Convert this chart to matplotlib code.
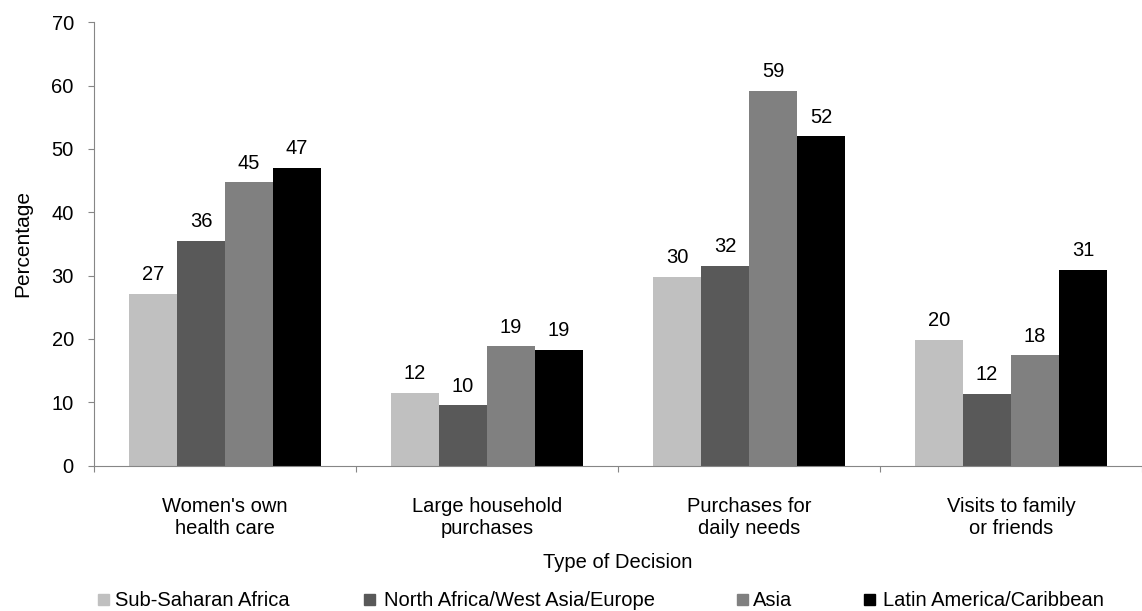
import matplotlib
matplotlib.use("Agg")
import numpy as np
import matplotlib.pyplot as plt
from matplotlib.patches import Rectangle

plt.rcParams['font.family'] = ['Liberation Sans', 'DejaVu Sans']

# data
categories = ["Women's own\nhealth care", "Large household\npurchases",
              "Purchases for\ndaily needs", "Visits to family\nor friends"]
regions = ["Sub-Saharan Africa", "North Africa/West Asia/Europe", "Asia",
           "Latin America/Caribbean"]
colors = ["#c0c0c0", "#595959", "#808080", "#000000"]

ssa = [27.1, 11.5, 29.8, 19.9]
nawa = [35.5, 9.5, 31.5, 11.3]
asia = [44.7, 18.8, 59.2, 17.4]
lac = [47.0, 18.3, 52.0, 30.9]

# printed labels (rounded in the source)
ssa_lab = [27, 12, 30, 20]
nawa_lab = [36, 10, 32, 12]
asia_lab = [45, 19, 59, 18]
lac_lab = [47, 19, 52, 31]

series = [ssa, nawa, asia, lac]
series_lab = [ssa_lab, nawa_lab, asia_lab, lac_lab]

FS = 14.5

fig = plt.figure(figsize=(11.42, 6.11), dpi=100)
ax = fig.add_axes([94/1142, 145.5/611, 1 - 94/1142, (465.5-22.3)/611])

x = np.arange(len(categories))
w = 0.183
for i in range(4):
    pos = x + (i - 1.5)*w
    ax.bar(pos, series[i], width=w, color=colors[i], edgecolor='none')
    for p, v, lab in zip(pos, series[i], series_lab[i]):
        ax.annotate(str(lab), (p, v), xytext=(0, 7), textcoords='offset points',
                    ha='center', va='bottom', fontsize=FS)

ax.set_ylim(0, 70)
ax.set_xlim(-0.5, 3.485)
ax.set_yticks(range(0, 71, 10))
ax.set_xticks(np.arange(-0.5, 4, 1))
ax.set_xticklabels([])
for c, lab in zip(x, categories):
    ax.text(c, -5.0, lab, ha='center', va='top', fontsize=FS, linespacing=1.2)
ax.text(1.5, -13.8, "Type of Decision", ha='center', va='top', fontsize=FS)
ax.set_ylabel("Percentage", fontsize=15)
ax.yaxis.set_label_coords(-0.059, 0.5)

for s in ['top', 'right']:
    ax.spines[s].set_visible(False)
for s in ['left', 'bottom']:
    ax.spines[s].set_color('#868686')
ax.tick_params(axis='both', direction='out', length=4.5, color='#868686', labelsize=FS)
ax.tick_params(axis='y', pad=10)

# legend along the bottom
sq_x = [98, 364, 737, 864]
txt_x = [115, 384, 753, 883]
for sx, tx, name, col in zip(sq_x, txt_x, regions, colors):
    fig.add_artist(Rectangle((sx/1142, (611-605)/611), 11/1142, 11/611,
                             transform=fig.transFigure, color=col))
    fig.text(tx/1142, (611-600)/611, name, ha='left', va='center', fontsize=FS)

fig.savefig("out.png", dpi=100)
